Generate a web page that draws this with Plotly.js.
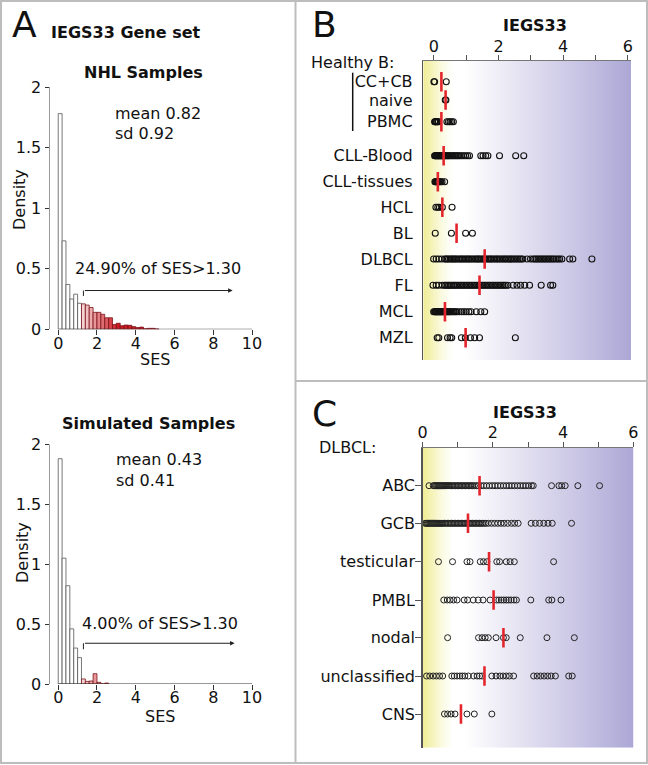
<!DOCTYPE html>
<html><head><meta charset="utf-8">
<script src="https://cdn.plot.ly/plotly-3.0.1.min.js"></script>
<style>html,body{margin:0;padding:0;background:#fff}#chart{width:648px;height:765px}</style>
</head><body><div id="chart"></div>
<script>
// ---------- Panel A : histograms (density per 0.2-wide SES bin) ----------
const nhlBinCenters = [0.1,0.3,0.5,0.7,0.9,1.1,1.3,1.5,1.7,1.9,2.1,2.3,2.5,2.7,2.9,3.1,3.3,3.5,3.7,3.9,4.1,4.3,4.5,4.7,4.9,5.1];
const nhlDensity    = [1.78,0.73,0.37,0.25,0.29,0.215,0.21,0.20,0.18,0.14,0.14,0.124,0.095,0.095,0.04,0.05,0.03,0.035,0.033,0.022,0.014,0.018,0.005,0.008,0.008,0.003];
const simBinCenters = [0.1,0.3,0.5,0.7,0.9,1.1,1.3,1.5,1.7,1.9,2.1,2.3,2.5];
const simDensity    = [1.88,1.05,0.82,0.46,0.30,0.22,0.042,0.022,0.025,0.086,0.014,0,0.008];
const sesThreshold = 1.30;
const nhlText = {mean:'mean 0.82', sd:'sd 0.92', pct:'24.90% of SES>1.30'};
const simText = {mean:'mean 0.43', sd:'sd 0.41', pct:'4.00% of SES>1.30'};

// ---------- Panel B : IEGS33 per lymphoma / healthy B group ----------
const groupsB = ['CC+CB','naive','PBMC','CLL-Blood','CLL-tissues','HCL','BL','DLBCL','FL','MCL','MZL'];
const ccCb = [0.0,0.02,0.38];
const naive = [0.35,0.37];
const pbmc = [0.02,0.04,0.05,0.07,0.09,0.12,0.14,0.4,0.45,0.5,0.55,0.6];
const cllBlood = [0.02,0.04,0.06,0.08,0.1,0.12,0.14,0.16,0.18,0.2,0.22,0.24,0.26,0.28,0.3,0.33,0.36,0.39,0.42,0.45,0.48,0.52,0.56,0.6,0.64,0.68,0.72,0.76,0.81,0.86,0.92,0.98,1.04,1.1,1.45,1.52,1.6,1.67,2.03,2.53,2.78];
const cllTissues = [0.03,0.05,0.07,0.09,0.11,0.13,0.15,0.18,0.21,0.25,0.33];
const hcl = [0.06,0.12,0.17,0.26,0.56];
const bl = [0.04,0.54,0.98,1.19];
const dlbcl = [-0.01,0.07,0.15,0.24,0.33,0.37,0.41,0.45,0.5,0.54,0.58,0.62,0.66,0.7,0.75,0.8,0.84,0.88,0.93,0.97,1.02,1.06,1.1,1.15,1.2,1.25,1.3,1.34,1.38,1.42,1.47,1.52,1.56,1.6,1.65,1.7,1.74,1.78,1.83,1.88,1.93,1.97,2.02,2.07,2.12,2.17,2.21,2.26,2.31,2.36,2.4,2.45,2.5,2.55,2.6,2.65,2.7,2.75,2.88,2.99,3.07,3.12,3.17,3.22,3.27,3.32,3.37,3.42,3.47,3.52,3.57,3.62,3.67,3.72,3.78,3.84,3.89,3.96,4.2,4.3,4.89];
const fl = [-0.03,0.07,0.15,0.26,0.33,0.37,0.42,0.46,0.5,0.55,0.6,0.64,0.68,0.73,0.78,0.83,0.88,0.93,0.98,1.03,1.08,1.13,1.18,1.23,1.28,1.33,1.38,1.43,1.48,1.53,1.58,1.63,1.68,1.73,1.78,1.83,1.88,1.93,1.98,2.03,2.08,2.13,2.18,2.23,2.29,2.45,2.57,2.68,2.81,2.96,3.32,3.61,3.68];
const mcl = [-0.01,0.02,0.04,0.06,0.08,0.1,0.12,0.14,0.16,0.18,0.2,0.22,0.24,0.26,0.28,0.3,0.33,0.36,0.39,0.42,0.45,0.48,0.51,0.55,0.59,0.63,0.67,0.71,0.78,0.86,0.93,1.0,1.08,1.15,1.31,1.45,1.57];
const mzl = [0.1,0.15,0.42,0.5,0.55,0.85,0.97,1.13,1.26,1.41,2.52];
const centerB = [0.23,0.36,0.23,0.30,0.12,0.26,0.70,1.57,1.41,0.34,0.98];

// ---------- Panel C : IEGS33 per DLBCL subtype ----------
const groupsC = ['ABC','GCB','testicular','PMBL','nodal','unclassified','CNS'];
const abc = [0.18,0.3,0.33,0.36,0.39,0.42,0.45,0.48,0.51,0.54,0.57,0.6,0.63,0.66,0.69,0.72,0.75,0.78,0.82,0.86,0.9,0.94,0.98,1.02,1.06,1.1,1.14,1.18,1.22,1.26,1.3,1.34,1.38,1.42,1.47,1.53,1.58,1.66,1.74,1.82,1.9,1.98,2.06,2.14,2.22,2.3,2.38,2.46,2.54,2.62,2.7,2.78,2.86,2.94,3.02,3.1,3.15,3.67,3.88,3.96,4.06,4.42,5.04];
const gcb = [0.07,0.1,0.13,0.16,0.19,0.22,0.25,0.28,0.31,0.34,0.37,0.4,0.43,0.46,0.49,0.52,0.55,0.58,0.62,0.66,0.7,0.74,0.78,0.82,0.86,0.9,0.94,0.98,1.02,1.06,1.1,1.14,1.18,1.22,1.26,1.3,1.34,1.38,1.42,1.46,1.5,1.54,1.58,1.62,1.66,1.7,1.75,1.8,1.87,1.96,2.05,2.14,2.23,2.32,2.42,2.53,2.62,2.72,3.09,3.21,3.33,3.45,3.57,3.69,4.24];
const testicular = [0.45,0.85,1.26,1.35,1.64,1.73,1.83,2.11,2.19,2.38,2.49,2.61,3.73];
const pmbl = [0.6,0.7,0.78,0.88,0.98,1.18,1.28,1.44,1.58,1.72,1.92,2.1,2.17,2.24,2.31,2.38,2.45,2.52,2.6,2.67,3.08,3.59,3.68,3.94];
const nodal = [0.71,1.59,1.69,1.78,1.87,2.09,2.3,2.38,2.78,3.54,4.32];
const unclassified = [0.11,0.2,0.3,0.39,0.48,0.57,0.83,0.9,0.98,1.06,1.13,1.2,1.3,1.45,1.55,1.62,1.69,1.97,2.09,2.2,2.29,2.38,2.47,2.59,3.16,3.26,3.36,3.46,3.56,3.66,3.78,4.16,4.26];
const cns = [0.62,0.71,0.81,0.92,1.26,1.47,1.97];
const centerC = [1.62,1.29,1.89,2.02,2.30,1.76,1.09];

// ---------- layout helpers (pixel -> paper) ----------
const W = 648, H = 765;
const px = v => v / W, py = v => 1 - v / H;
const F = 'DejaVu Sans';
const rowPosB = [81.7,100,121.7,155.7,181.7,207.3,233.3,259,285.3,311.7,337.7];
const rowPosC = [485.7,523.3,561.7,600,637.7,676,714];
const valuesB = [ccCb,naive,pbmc,cllBlood,cllTissues,hcl,bl,dlbcl,fl,mcl,mzl];
const valuesC = [abc,gcb,testicular,pmbl,nodal,unclassified,cns];

function barFill(c){
  if (c < 1.2) return '#ffffff';
  const t = Math.min(1, Math.max(0, (c - 1.3) / 1.8));
  const a = [246,212,212], b = [206,26,36];
  return 'rgb(' + a.map((v,i)=>Math.round(v + (b[i]-v)*t)).join(',') + ')';
}
function barLine(c){ return c < 1.2 ? '#555' : 'rgb(120,20,25)'; }

const traces = [];
traces.push({type:'bar', x:nhlBinCenters, y:nhlDensity, width:0.2, xaxis:'x', yaxis:'y',
  marker:{color:nhlBinCenters.map(barFill), line:{color:nhlBinCenters.map(barLine), width:0.8}}, hoverinfo:'skip'});
traces.push({type:'bar', x:simBinCenters, y:simDensity, width:0.2, xaxis:'x2', yaxis:'y2',
  marker:{color:simBinCenters.map(barFill), line:{color:simBinCenters.map(barLine), width:0.8}}, hoverinfo:'skip'});

// gradient backgrounds
function bgTrace(xr, yr, xa, ya){
  const n = 60, xs = [], zr = [];
  for (let i=0;i<=n;i++){ xs.push(xr[0] + (xr[1]-xr[0])*i/n); zr.push(i/n); }
  return {type:'heatmap', x:xs, y:yr, z:[zr,zr], xaxis:xa, yaxis:ya, zsmooth:'best', showscale:false, hoverinfo:'skip',
    zmin:0, zmax:1,
    colorscale:[[0,'rgb(240,237,150)'],[0.04,'rgb(245,243,185)'],[0.09,'rgb(251,251,228)'],[0.14,'rgb(255,255,255)'],[0.2,'rgb(255,255,255)'],
                [0.45,'rgb(230,228,242)'],[0.75,'rgb(200,196,228)'],[1,'rgb(172,167,213)']]};
}
traces.push(bgTrace([-0.33,6.1],[61,360],'x3','y3'));
traces.push(bgTrace([0,6],[447.7,747.7],'x4','y4'));

valuesB.forEach((vals,i)=>{
  traces.push({type:'scatter', mode:'markers', x:vals, y:vals.map(()=>rowPosB[i]), xaxis:'x3', yaxis:'y3',
    marker:{symbol:'circle-open', size:6, color:'#111', line:{width:1.1, color:'#111'}}, hoverinfo:'skip'});
});
traces.push({type:'scatter', mode:'markers', x:centerB, y:rowPosB, xaxis:'x3', yaxis:'y3',
  marker:{symbol:'line-ns', size:14, line:{width:2.6, color:'#e3262d'}}, hoverinfo:'skip'});
valuesC.forEach((vals,i)=>{
  traces.push({type:'scatter', mode:'markers', x:vals, y:vals.map(()=>rowPosC[i]), xaxis:'x4', yaxis:'y4',
    marker:{symbol:'circle-open', size:6, color:'#222', line:{width:1, color:'#222'}}, hoverinfo:'skip'});
});
traces.push({type:'scatter', mode:'markers', x:centerC, y:rowPosC, xaxis:'x4', yaxis:'y4',
  marker:{symbol:'line-ns', size:14, line:{width:2.6, color:'#e3262d'}}, hoverinfo:'skip'});

const tf = {family:F, size:16, color:'#111'};
const histX = (dom, anchor) => ({domain:dom, anchor:anchor, range:[-0.45,10], tickvals:[0,2,4,6,8,10], ticks:'outside', ticklen:5, tickcolor:'#333',
  ticklabelstandoff:-6, showline:false, showgrid:false, zeroline:false, tickfont:tf});
const histY = (dom, anchor) => ({domain:dom, anchor:anchor, range:[0,2], tickvals:[0,0.5,1,1.5,2], ticktext:['0','0.5','1','1.5','2'], ticks:'outside', ticklen:4, tickcolor:'#333',
  showline:false, showgrid:false, zeroline:false, tickfont:tf});
const topX = (dom, anchor, rng) => ({domain:dom, anchor:anchor, side:'top', range:rng, tickvals:[0,1,2,3,4,5,6], ticktext:['0','','2','','4','','6'],
  ticks:'outside', ticklen:5, tickcolor:'#555', ticklabelstandoff:-3, showline:true, linecolor:'#777', linewidth:1, showgrid:false, zeroline:false, tickfont:tf});

const layout = {
  width:W, height:H, margin:{l:0,r:0,t:0,b:0}, paper_bgcolor:'#fff', plot_bgcolor:'rgba(0,0,0,0)', showlegend:false, bargap:0,
  xaxis: histX([px(49.5),px(252)],'y'),
  yaxis: histY([py(329.3),py(87)],'x'),
  xaxis2: histX([px(49.5),px(252)],'y2'),
  yaxis2: histY([py(684),py(444.3)],'x2'),
  xaxis3: topX([px(423.3),px(631)],'y3',[-0.33,6.1]),
  yaxis3: {domain:[py(360),py(61)], anchor:'x3', range:[360,61], tickvals:rowPosB, ticktext:groupsB, ticks:'outside', ticklen:6, tickcolor:'rgba(0,0,0,0)',
    showline:true, linecolor:'#555', linewidth:1.5, showgrid:false, zeroline:false, tickfont:tf},
  xaxis4: topX([px(422.7),px(633.3)],'y4',[0,6]),
  yaxis4: {domain:[py(747.7),py(447.7)], anchor:'x4', range:[747.7,447.7], tickvals:rowPosC, ticktext:groupsC, ticks:'outside', ticklen:6, tickcolor:'#555',
    ticklabelstandoff:-3, showline:true, linecolor:'#555', linewidth:1.5, showgrid:false, zeroline:false, tickfont:tf},
  shapes:[
    {type:'rect', xref:'paper', yref:'paper', x0:px(1), x1:px(647), y0:py(763), y1:py(1), line:{color:'#bdbdbd', width:2}},
    {type:'line', xref:'paper', yref:'paper', x0:px(295.5), x1:px(295.5), y0:py(763), y1:py(1), line:{color:'#bdbdbd', width:2}},
    {type:'line', xref:'paper', yref:'paper', x0:px(295.5), x1:px(647), y0:py(381), y1:py(381), line:{color:'#bdbdbd', width:2}},
    {type:'line', xref:'x', yref:'y', x0:0, x1:10, y0:0, y1:0, line:{color:'#333', width:1}},
    {type:'line', xref:'x', yref:'y', x0:-0.45, x1:-0.45, y0:0, y1:2, line:{color:'#333', width:1}},
    {type:'line', xref:'x2', yref:'y2', x0:0, x1:10, y0:0, y1:0, line:{color:'#333', width:1}},
    {type:'line', xref:'x2', yref:'y2', x0:-0.45, x1:-0.45, y0:0, y1:2, line:{color:'#333', width:1}},
    {type:'line', xref:'x', yref:'y', x0:sesThreshold, x1:sesThreshold, y0:0.275, y1:0.32, line:{color:'#222', width:1}},
    {type:'line', xref:'x2', yref:'y2', x0:sesThreshold, x1:sesThreshold, y0:0.29, y1:0.34, line:{color:'#222', width:1}},
    {type:'line', xref:'paper', yref:'paper', x0:px(352.7), x1:px(352.7), y0:py(131), y1:py(72.7), line:{color:'#111', width:1.5}}
  ],
  annotations:[]
};
const A = layout.annotations;
function txt(t, x, y, o){ A.push(Object.assign({text:t, xref:'paper', yref:'paper', x:px(x), y:py(y), showarrow:false, xanchor:'left', yanchor:'middle',
  font:{family:F, size:16, color:'#111'}}, o||{})); }
A.push({xref:'x', yref:'y', axref:'x', ayref:'y', x:9, y:0.32, ax:sesThreshold, ay:0.32, text:'', showarrow:true, arrowhead:2, arrowsize:0.9, arrowwidth:1, arrowcolor:'#222'});
A.push({xref:'x2', yref:'y2', axref:'x2', ayref:'y2', x:9.1, y:0.34, ax:sesThreshold, ay:0.34, text:'', showarrow:true, arrowhead:2, arrowsize:0.9, arrowwidth:1, arrowcolor:'#222'});
txt('A', 10, 24, {font:{family:F, size:36, color:'#111'}});
txt('<b>IEGS33 Gene set</b>', 49, 33);
txt('<b>NHL Samples</b>', 143, 72, {xanchor:'center'});
txt(nhlText.mean, 113, 113);
txt(nhlText.sd, 113, 133);
txt(nhlText.pct, 73, 268);
txt('Density', 20, 200, {xanchor:'center', textangle:-90});
txt('SES', 155, 359, {xanchor:'center'});
txt('<b>Simulated Samples</b>', 148, 423, {xanchor:'center'});
txt(simText.mean, 114, 459);
txt(simText.sd, 114, 480);
txt(simText.pct, 80, 623);
txt('Density', 22, 553, {xanchor:'center', textangle:-90});
txt('SES', 160, 716, {xanchor:'center'});
txt('B', 310, 24, {font:{family:F, size:36, color:'#111'}});
txt('<b>IEGS33</b>', 535, 26, {xanchor:'center'});
txt('Healthy B:', 309, 62);
txt('C', 310, 413, {font:{family:F, size:36, color:'#111'}});
txt('<b>IEGS33</b>', 525, 412, {xanchor:'center'});
txt('DLBCL:', 317, 447);

Plotly.newPlot('chart', traces, layout, {staticPlot:true});
</script></body></html>
